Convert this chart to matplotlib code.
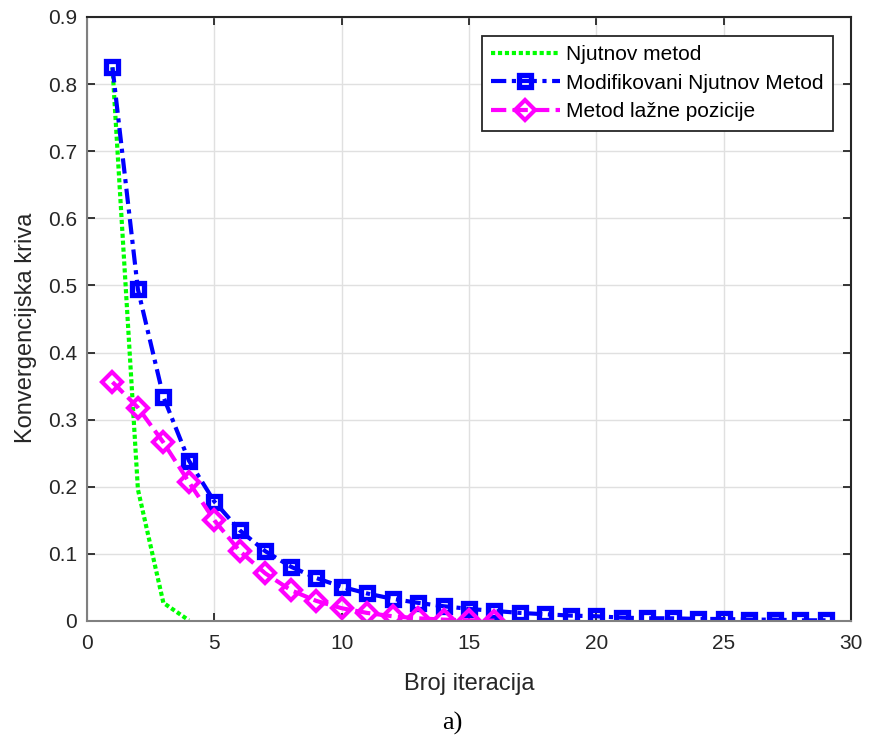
import matplotlib
matplotlib.use("Agg")
import matplotlib.pyplot as plt
import numpy as np

# Data
x_newton = [1, 2, 3, 4]
y_newton = [0.825, 0.196, 0.027, 0.001]

x_mod = list(range(1, 30))
y_mod = [0.825, 0.494, 0.334, 0.239, 0.178, 0.135, 0.104, 0.081, 0.064, 0.051,
         0.041, 0.033, 0.027, 0.022, 0.018, 0.015, 0.012, 0.010, 0.008, 0.007,
         0.005, 0.004, 0.004, 0.003, 0.003, 0.002, 0.002, 0.001, 0.001]

x_fp = list(range(1, 17))
y_fp = [0.356, 0.318, 0.266, 0.207, 0.150, 0.104, 0.071, 0.046, 0.030, 0.019,
        0.012, 0.007, 0.004, 0.002, 0.001, 0.0005]

labels = ["Njutnov metod", "Modifikovani Njutnov Metod", "Metod lažne pozicije"]
xlabel = "Broj iteracija"
ylabel = "Konvergencijska kriva"
caption = "a)"

plt.rcParams['font.family'] = ['Liberation Sans', 'DejaVu Sans']
plt.rcParams['lines.scale_dashes'] = False
fig = plt.figure(figsize=(8.69, 7.42), dpi=100)
ax = fig.add_axes([0.1001, 0.1631, 0.8792, 0.8140])

ax.plot(x_newton, y_newton, linestyle=(0, (3, 2)), color='#00ff00', linewidth=3,
        dash_capstyle='butt', label=labels[0])
ax.plot(x_mod, y_mod, linestyle=(0, (11, 4, 3, 4)), color='#0000ff', linewidth=3,
        marker='s', markersize=8, markerfacecolor='none', markeredgewidth=3.8,
        label=labels[1])
ax.plot(x_fp, y_fp, linestyle=(0, (11, 4.5)), color='#ff00ff', linewidth=3,
        marker='D', markersize=10, markerfacecolor='none', markeredgewidth=3,
        label=labels[2])

ax.set_xlim(0, 30)
ax.set_ylim(0, 0.9)
ax.set_xticks(np.arange(0, 31, 5))
ax.set_yticks(np.arange(0, 0.91, 0.1))
ax.set_yticklabels(["0"] + [f"{v:.1f}" for v in np.arange(0.1, 0.91, 0.1)])
ax.grid(True, color='#e0e0e0', linewidth=1)
ax.set_axisbelow(True)
ax.tick_params(direction='in', labelsize=15, colors='#262626', length=6, width=1.3,
               top=True, right=True, labelcolor='#262626')
ax.tick_params(axis='x', pad=9.5)
ax.tick_params(axis='y', pad=7)
for k in ['left', 'bottom']:
    ax.spines[k].set_color('#808080')
    ax.spines[k].set_linewidth(1.5)
for k in ['top', 'right']:
    ax.spines[k].set_color('#262626')
    ax.spines[k].set_linewidth(1.5)
ax.set_xlabel(xlabel, fontsize=17, color='#262626')
ax.set_ylabel(ylabel, fontsize=17, color='#262626')
ax.xaxis.set_label_coords(0.5, -0.086)
ax.yaxis.set_label_coords(-0.066, 0.485)

leg = ax.legend(loc='upper right', bbox_to_anchor=(0.9764, 0.9685), fontsize=15,
                frameon=True, fancybox=False, edgecolor='#262626', framealpha=1,
                handlelength=3.3, borderpad=0.45, labelspacing=0.45, handletextpad=0.3,
                borderaxespad=0)
leg.get_frame().set_linewidth(1.3)

fig.text(0.521, 0.025, caption, ha='center', va='center', fontsize=19,
         family=['Liberation Serif', 'DejaVu Serif'])

fig.savefig("out.png", dpi=100)
